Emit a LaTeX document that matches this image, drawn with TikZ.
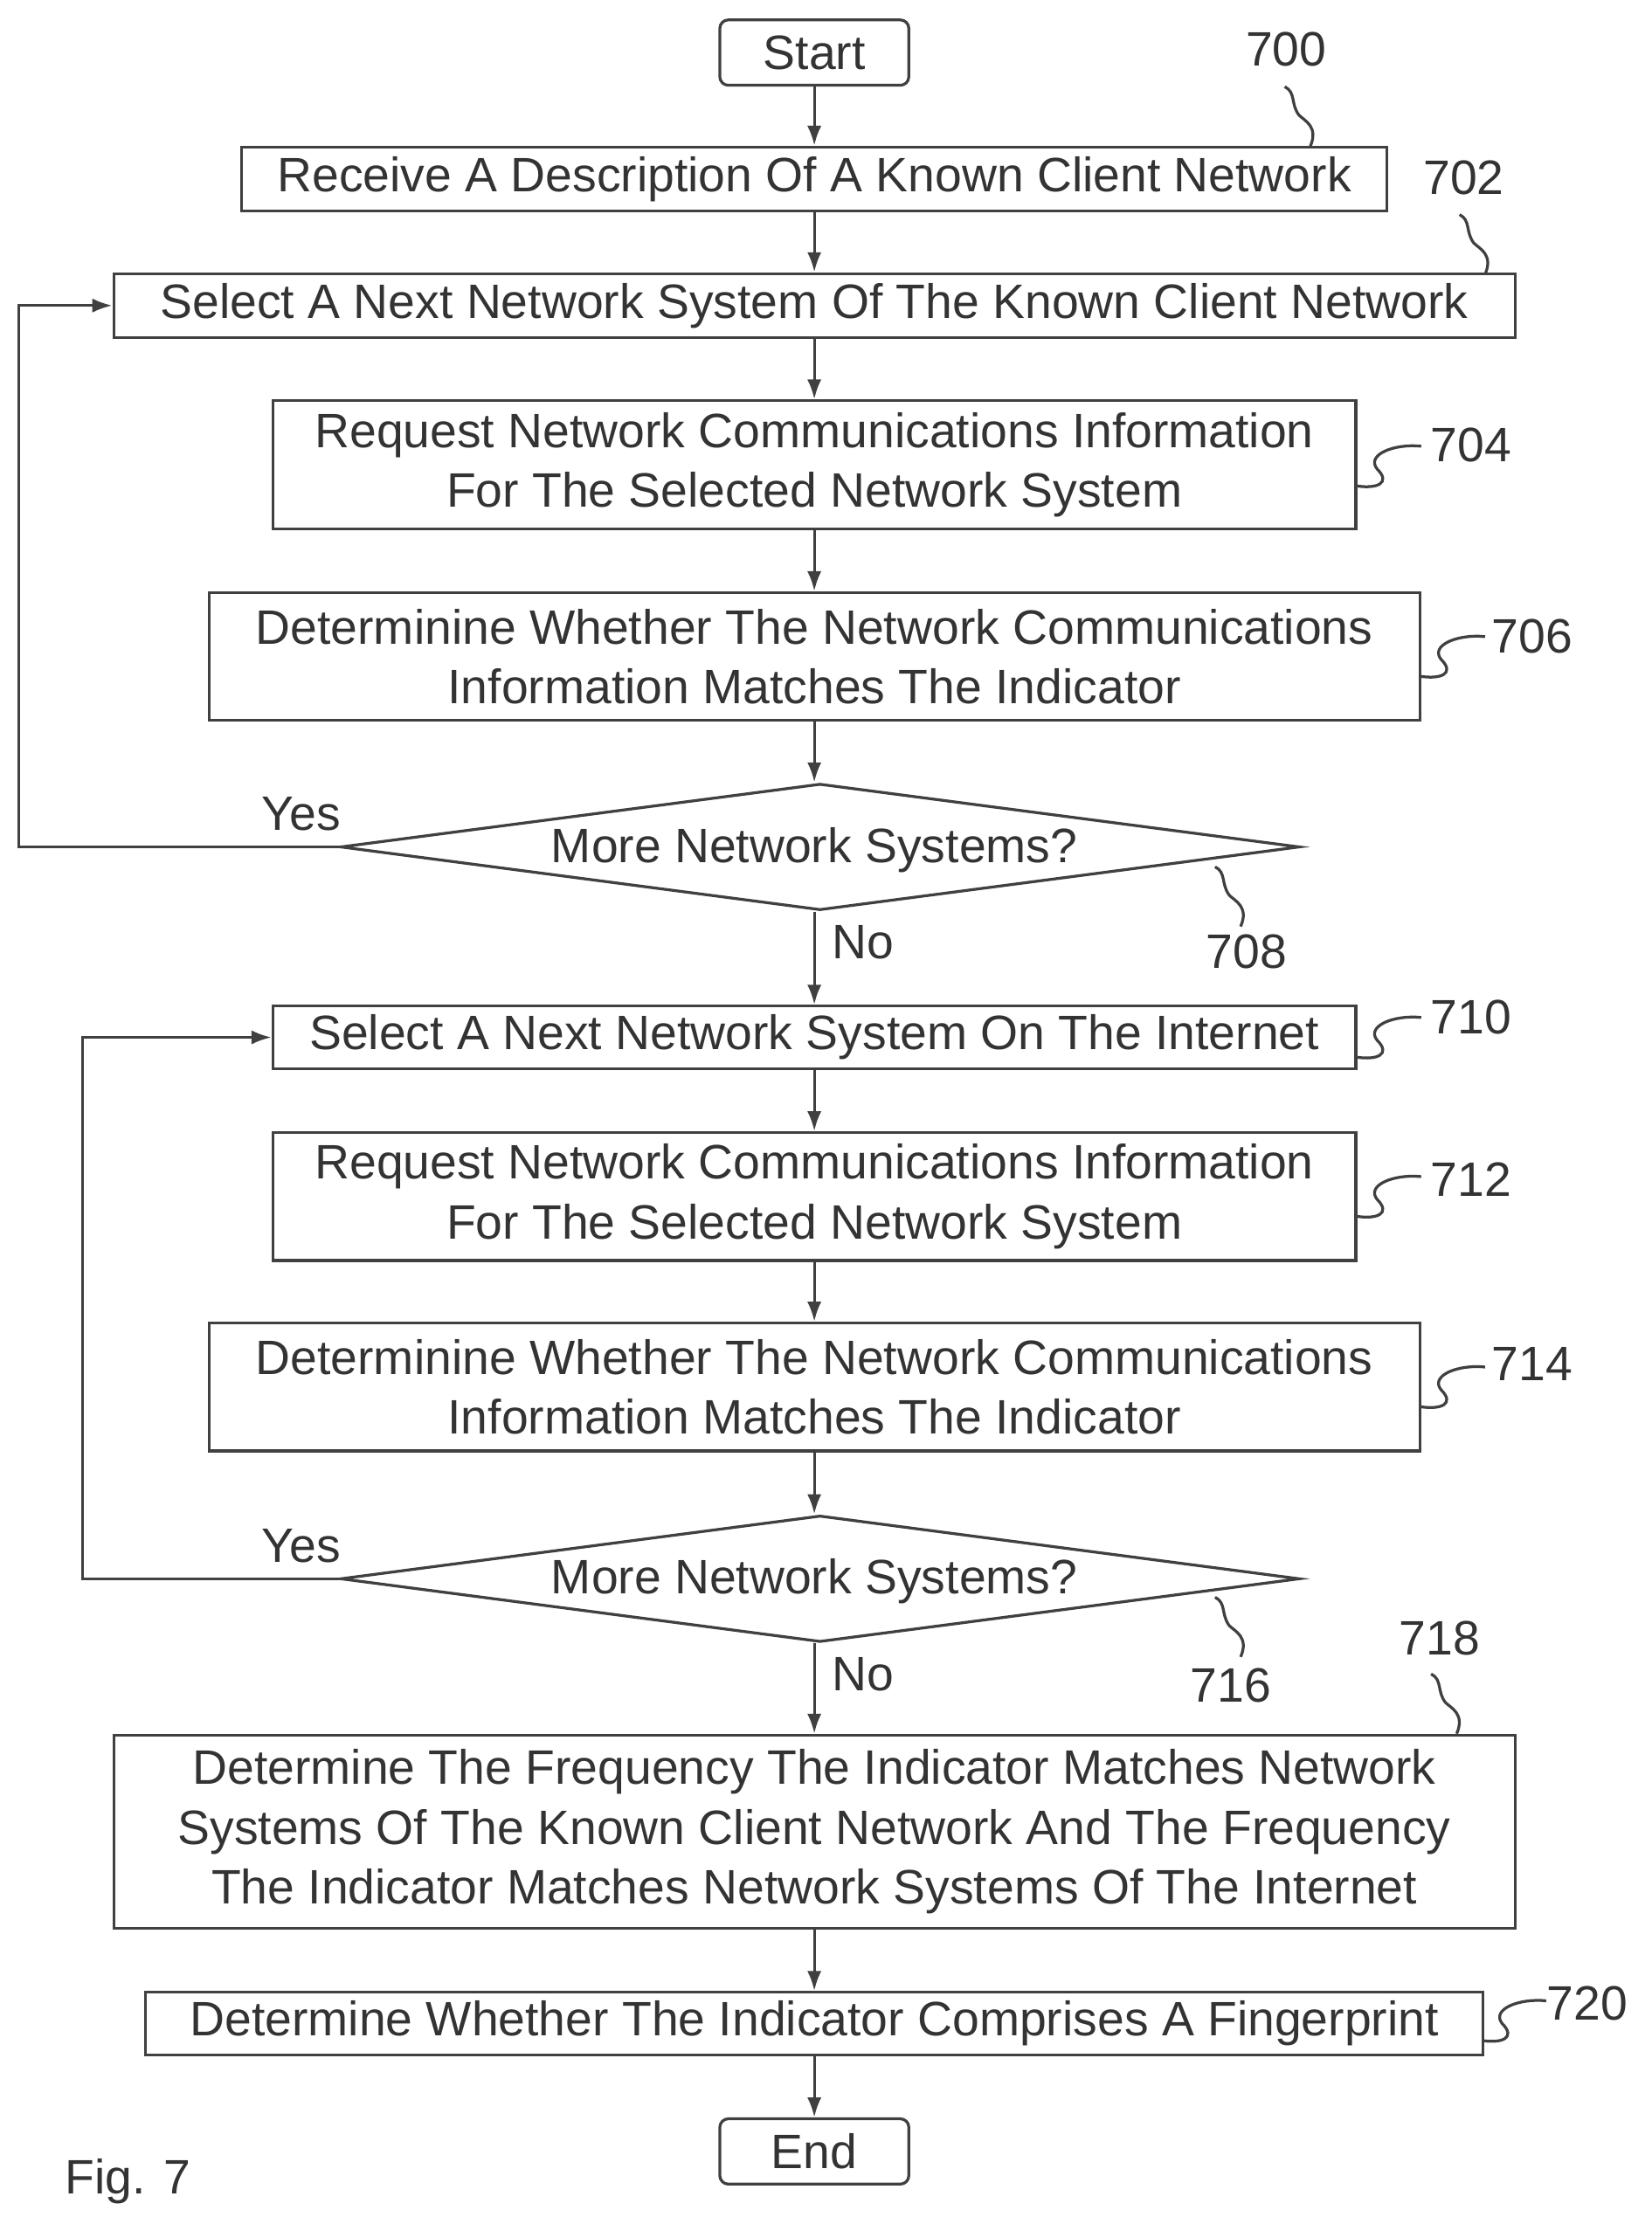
\documentclass[tikz,border=0pt]{standalone}
\usepackage{fontspec}
\setmainfont{Liberation Sans}
\usetikzlibrary{shapes.geometric,arrows.meta}
\begin{document}
\begin{tikzpicture}[x=0.5pt,y=0.5pt,
  every node/.style={text=black!80,font=\fontsize{17}{21}\selectfont},
  box/.style={draw=black!75,line width=1pt,align=center,inner sep=0pt},
  dia/.style={draw=black!75,line width=1pt,diamond,aspect=7.6,inner sep=0pt},
  ar/.style={draw=black!75,line width=1pt,-{Latex[length=7pt,width=5pt]}},
  sq/.style={draw=black!75,line width=1pt}]
\useasboundingbox (0,0) rectangle (1162,-1570);
\newcommand\hsq[2]{\draw[sq] (#1,#2) .. controls (#1+14,#2-2) and (#1+24,#2+2) .. (#1+14,#2+12) .. controls (#1+6,#2+22) and (#1+26,#2+30) .. (#1+45,#2+28);}
\newcommand\vsq[2]{\draw[sq] (#1,#2) .. controls (#1+6,#2+14) and (#1-4,#2+18) .. (#1-8,#2+22) .. controls (#1-14,#2+30) and (#1-10,#2+38) .. (#1-18,#2+42);}
\node[box,minimum width=66.5pt,minimum height=23pt,rounded corners=3] (st) at (573,-37) {Start};
\node[box,minimum width=403pt,minimum height=22.5pt] (b700) at (573,-126) {Receive A Description Of A Known Client Network};
\node[box,minimum width=493pt,minimum height=22.5pt] (b702) at (573,-215) {Select A Next Network System Of The Known Client Network};
\node[box,minimum width=381pt,minimum height=45pt] (b704) at (573,-327) {Request Network Communications Information\\For The Selected Network System};
\node[box,minimum width=426pt,minimum height=45pt] (b706) at (573,-462) {Determinine Whether The Network Communications\\Information Matches The Indicator};
\node[dia,minimum width=337.5pt,minimum height=44.5pt] (d708) at (577,-596) {};
\node (t708) at (573,-598) {More Network Systems?};
\node[box,minimum width=381pt,minimum height=22pt] (b710) at (573,-730) {Select A Next Network System On The Internet};
\node[box,minimum width=381pt,minimum height=45pt] (b712) at (573,-842) {Request Network Communications Information\\For The Selected Network System};
\node[box,minimum width=426pt,minimum height=45pt] (b714) at (573,-976) {Determinine Whether The Network Communications\\Information Matches The Indicator};
\node[dia,minimum width=337.5pt,minimum height=44.5pt] (d716) at (577,-1111) {};
\node (t716) at (573,-1113) {More Network Systems?};
\node[box,minimum width=493pt,minimum height=68pt] (b718) at (573,-1289) {Determine The Frequency The Indicator Matches Network\\Systems Of The Known Client Network And The Frequency\\The Indicator Matches Network Systems Of The Internet};
\node[box,minimum width=470.5pt,minimum height=22pt] (b720) at (573,-1424) {Determine Whether The Indicator Comprises A Fingerprint};
\node[box,minimum width=66.5pt,minimum height=23pt,rounded corners=3] (en) at (573,-1514) {End};
\draw[ar] (st) -- (b700);
\draw[ar] (b700) -- (b702);
\draw[ar] (b702) -- (b704);
\draw[ar] (b704) -- (b706);
\draw[ar] (b706) -- (d708.north -| b706);
\draw[ar] (d708.south -| b706) -- (b710);
\draw[ar] (b710) -- (b712);
\draw[ar] (b712) -- (b714);
\draw[ar] (b714) -- (d716.north -| b714);
\draw[ar] (d716.south -| b714) -- (b718);
\draw[ar] (b718) -- (b720);
\draw[ar] (b720) -- (en);
\coordinate (l1) at (13,-596);
\coordinate (l2) at (58,-1111);
\draw[ar] (d708.west) -- (l1) |- (b702.west);
\draw[ar] (d716.west) -- (l2) |- (b710.west);
\node (y1) at (212,-573) {Yes};
\node (n1) at (607,-663) {No};
\node (y2) at (212,-1088) {Yes};
\node (n2) at (607,-1178) {No};
\node (r700) at (905,-35) {700};
\node (r702) at (1030,-125) {702};
\node (r704) at (1035,-313) {704};
\node (r706) at (1078,-448) {706};
\node (r708) at (877,-670) {708};
\node (r710) at (1035,-716) {710};
\node (r712) at (1035,-830) {712};
\node (r714) at (1078,-960) {714};
\node (r716) at (866,-1186) {716};
\node (r718) at (1013,-1153) {718};
\node (r720) at (1117,-1410) {720};
\node (fig) at (90,-1535) {Fig. 7};
\vsq{922}{-103}
\vsq{1045}{-193}
\hsq{955}{-342}
\hsq{1000}{-476}
\vsq{873}{-652}
\hsq{955}{-744}
\hsq{955}{-856}
\hsq{1000}{-990}
\vsq{873}{-1166}
\vsq{1025}{-1220}
\hsq{1043}{-1436}
\end{tikzpicture}
\end{document}
